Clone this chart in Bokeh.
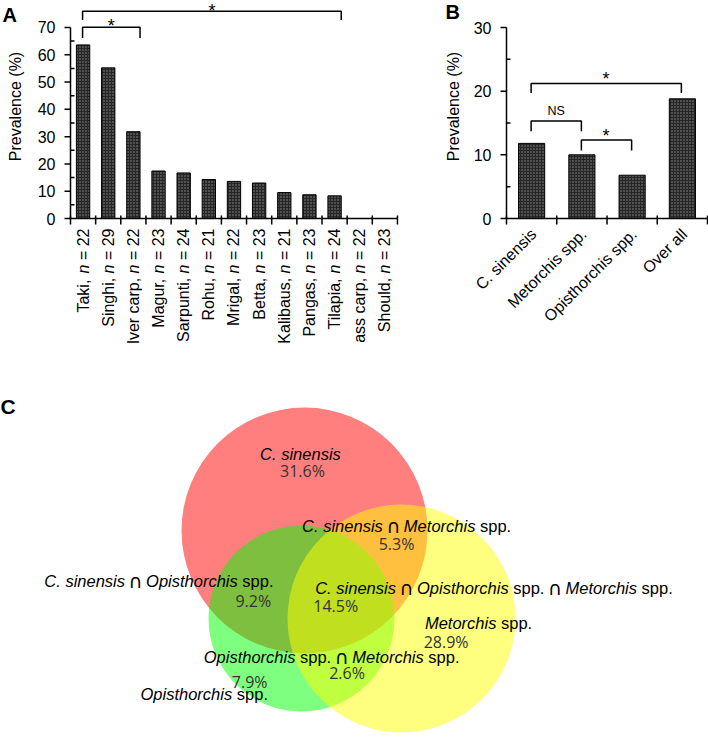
from math import pi
from bokeh.plotting import figure
from bokeh.models import Range1d, ColumnDataSource
from bokeh.layouts import column, row
from bokeh.embed import file_html
from bokeh.resources import INLINE
from bokeh.core.properties import value

# ---------------- data ----------------
# Panel A: prevalence by fish species
fish = ["Taki", "Singhi", "lver carp", "Magur", "Sarpunti", "Rohu", "Mrigal",
        "Betta", "Kalibaus", "Pangas", "Tilapia", "ass carp", "Should"]
fish_n = [22, 29, 22, 23, 24, 21, 22, 23, 21, 23, 24, 22, 23]
fish_prev = [63.6, 55.2, 31.8, 17.4, 16.7, 14.3, 13.6, 13.0, 9.5, 8.7, 8.3, 0.0, 0.0]
yticks_a = [0, 10, 20, 30, 40, 50, 60, 70]
yminor_a = [5, 15, 25, 35, 45, 55, 65]

# Panel B: prevalence by parasite
parasites = ["C. sinensis", "Metorchis spp.", "Opisthorchis spp.", "Over all"]
parasite_prev = [11.8, 10.0, 6.8, 18.8]
yticks_b = [0, 10, 20, 30]
yminor_b = [5, 15, 25]

# Panel C: Venn diagram of co-infection (percent)
venn_sets = ["C. sinensis", "Opisthorchis spp.", "Metorchis spp."]
venn_colors = ["#ff0000", "#00ff00", "#ffff00"]
region_names = [
    "C. sinensis",
    "C. sinensis ∩ Metorchis spp.",
    "C. sinensis ∩ Opisthorchis spp.",
    "C. sinensis ∩ Opisthorchis spp. ∩ Metorchis spp.",
    "Metorchis spp.",
    "Opisthorchis spp. ∩ Metorchis spp.",
    "Opisthorchis spp.",
]
region_pct = [31.6, 5.3, 9.2, 14.5, 28.9, 2.6, 7.9]

# ---------------- helpers ----------------
FONT = "Liberation Sans"
W = {' ': 278, ',': 278, '.': 278, '=': 584, '(': 333, ')': 333, '%': 889, '∩': 722,
     'a': 556, 'b': 556, 'c': 500, 'd': 556, 'e': 556, 'f': 278, 'g': 556, 'h': 556,
     'i': 222, 'j': 222, 'k': 500, 'l': 222, 'm': 833, 'n': 556, 'o': 556, 'p': 556,
     'q': 556, 'r': 333, 's': 500, 't': 278, 'u': 556, 'v': 500, 'w': 722, 'x': 500,
     'y': 500, 'z': 500, 'A': 667, 'B': 667, 'C': 722, 'D': 722, 'E': 667, 'F': 611,
     'G': 778, 'H': 722, 'I': 278, 'K': 667, 'L': 556, 'M': 833, 'N': 722, 'O': 778,
     'P': 667, 'R': 722, 'S': 667, 'T': 611}
for d in "0123456789":
    W[d] = 556


def tw(s, size):
    return sum(W.get(c, 556) for c in s) * size / 1000.0


BAR = dict(fill_color="#262626", line_color="black", line_width=1,
           hatch_pattern="dot", hatch_color="white", hatch_alpha=0.5,
           hatch_scale=3, hatch_weight=1)
TXT = dict(text_font=value(FONT), text_color="black")


def panel(width, height, ox, oy, kx, ky):
    """figure whose frame fills the canvas; data origin at pixel (ox, oy)."""
    p = figure(width=width, height=height, output_backend="svg",
               toolbar_location=None,
               x_range=Range1d(-ox / kx, (width - ox) / kx),
               y_range=Range1d(-(height - oy) / ky, oy / ky),
               x_axis_location=None, y_axis_location=None,
               min_border=0, outline_line_color=None)
    p.xgrid.visible = False
    p.ygrid.visible = False
    return p


def draw_axes(p, n, yticks, yminor, kx, ky, ymax, label_x, label_y):
    lw = 1.5
    # axis lines
    p.segment(x0=[0, 0], y0=[0, 0], x1=[n, 0], y1=[0, ymax], line_color="black",
              line_width=lw)
    # y ticks: major outward, minor inward
    p.ray(x=[0] * len(yticks), y=yticks, length=6, length_units="screen",
          angle=pi, line_color="black", line_width=lw)
    p.ray(x=[0] * len(yminor), y=yminor, length=4, length_units="screen",
          angle=0, line_color="black", line_width=lw)
    # x ticks at category boundaries (crossing the axis line)
    xb = list(range(n + 1))
    p.ray(x=xb, y=[0] * len(xb), length=6, length_units="screen", angle=-pi / 2,
          line_color="black", line_width=lw)
    p.ray(x=xb, y=[0] * len(xb), length=3, length_units="screen", angle=pi / 2,
          line_color="black", line_width=lw)
    # y tick labels
    p.text(x=[-15 / kx] * len(yticks), y=yticks, text=[str(t) for t in yticks],
           text_align="right", text_baseline="middle", text_font_size="16px", **TXT)
    # y axis title
    p.text(x=[label_x], y=[label_y], text=["Prevalence (%)"], angle=pi / 2,
           text_align="center", text_baseline="middle", text_font_size="16px", **TXT)


STAR = dict(text_align="center", text_baseline="middle", text_font_size="18px", **TXT)
LETTER = dict(text_align="left", text_baseline="middle", text_font_size="20px",
              text_font_style="bold", **TXT)

# ---------------- Panel A ----------------
kxA, kyA, oxA, oyA = 25.15, 2.729, 70, 218
nA = len(fish)
xa = [i + 0.5 for i in range(nA)]
pA = panel(400, 368, oxA, oyA, kxA, kyA)
pA.vbar(x=xa, top=fish_prev, bottom=0, width=0.53, **BAR)
draw_axes(pA, nA, yticks_a, yminor_a, kxA, kyA, 70, -55 / kxA, 112 / kyA)

# rotated category labels "Name, n = N" with italic n
norm = dict(x=[], y=[], text=[])
ital = dict(x=[], y=[], text=[])
for i, (name, n) in enumerate(zip(fish, fish_n)):
    segs = [(name + ", ", False), ("n", True), (" = %d" % n, False)]
    total = sum(tw(s, 16) for s, _ in segs)
    cum = 0.0
    for s, it in segs:
        lead = tw(" " * (len(s) - len(s.lstrip(" "))), 16)
        tgt = ital if it else norm
        tgt["x"].append(xa[i])
        tgt["y"].append(-(10 + total - cum - lead) / kyA)
        tgt["text"].append(s.strip(" "))
        cum += tw(s, 16)
for src, st in ((norm, "normal"), (ital, "italic")):
    pA.text(x="x", y="y", text="text", source=ColumnDataSource(src), angle=pi / 2,
            text_align="left", text_baseline="middle", text_font_size="16px",
            text_font_style=st, **TXT)

# significance brackets A (Taki vs Silver carp, Taki vs Tilapia)
i_taki, i_silver, i_tilapia = 0, 2, 10
lA_x = [[xa[i_taki] - 0.02] * 2 + [xa[i_tilapia] + 0.265] * 2,
        [xa[i_taki] - 0.02] * 2 + [xa[i_silver] + 0.265] * 2]
lA_y = [[72.7, 75.9, 75.9, 72.7], [66.1, 70.1, 70.1, 66.1]]
pA.multi_line(lA_x, lA_y, line_color="black", line_width=1.5)
pA.text(x=[(lA_x[0][0] + lA_x[0][2]) / 2, (lA_x[1][0] + lA_x[1][2]) / 2],
        y=[76.04, 70.5], text=["*", "*"], **STAR)
pA.text(x=[-68 / kxA], y=[204 / kyA], text=["A"], **LETTER)

# ---------------- Panel B ----------------
kxB, kyB, oxB, oyB = 50.25, 6.366, 106, 218
nB = len(parasites)
xbc = [i + 0.5 for i in range(nB)]
pB = panel(308, 368, oxB, oyB, kxB, kyB)
pB.vbar(x=xbc, top=parasite_prev, bottom=0, width=0.52, **BAR)
draw_axes(pB, nB, yticks_b, yminor_b, kxB, kyB, 30, -53 / kxB, 112 / kyB)
pB.text(x=[c + 2 / kxB for c in xbc], y=[-13 / kyB] * nB, text=parasites,
        angle=pi / 4, text_align="right", text_baseline="middle",
        text_font_size="16px", **TXT)

lB_x = [[0.49, 0.49, 3.48, 3.48], [0.49, 0.49, 1.49, 1.49], [1.49, 1.49, 2.49, 2.49]]
lB_y = [[19.7, 21.2, 21.2, 19.7], [13.7, 15.3, 15.3, 13.7], [10.7, 12.35, 12.35, 10.7]]
pB.multi_line(lB_x, lB_y, line_color="black", line_width=1.5)
pB.text(x=[1.98, 1.98], y=[21.85, 12.94], text=["*", "*"], **STAR)
pB.text(x=[0.99], y=[16.89], text=["NS"], text_align="center",
        text_baseline="middle", text_font_size="12.5px", **TXT)
pB.text(x=[-61 / kxB], y=[206.5 / kyB], text=["B"], **LETTER)

# ---------------- Panel C ----------------
pC = figure(width=708, height=371, output_backend="svg", toolbar_location=None,
            x_range=Range1d(0, 708), y_range=Range1d(739, 368),
            x_axis_location=None, y_axis_location=None,
            min_border=0, outline_line_color=None)
pC.xgrid.visible = False
pC.ygrid.visible = False

circ_x = [304, 301, 401]
circ_y = [530, 618, 618]
circ_r = [123, 93, 114]
for cx, cy, r, col in zip(circ_x, circ_y, circ_r, venn_colors):
    pC.circle(x=[cx], y=[cy], radius=r, fill_color=col, fill_alpha=0.5,
              line_color=None)

lab_left = [259.6, 301.6, 43.8, 314.7, 424.4, 203.2, 140.0]
lab_y = [454.3, 526.7, 581.7, 588.3, 623.3, 657.3, 694.3]
pct_x = [302.0, 396.0, 252.8, 335.2, 445.6, 346.5, 249.2]
pct_y = [470.7, 543.3, 600.7, 605.7, 641.7, 672.7, 681.7]

SZ = 16.5
cn = dict(x=[], y=[], text=[])
ci = dict(x=[], y=[], text=[])
cs = dict(x=[], y=[], text=[])
for name, lx, ly in zip(region_names, lab_left, lab_y):
    base = ly - 1.0                 # alphabetic baseline position
    tokens = name.split(" ")
    cx = lx
    for k, tok in enumerate(tokens):
        if tok == "∩":
            cs["x"].append(cx + tw(tok, SZ) / 2)
            cs["y"].append(base)
            cs["text"].append(tok)
        else:
            tgt = cn if tok == "spp." else ci
            if tgt is ci and k > 0 and tokens[k - 1] not in ("spp.", "∩") and ci["text"]:
                ci["text"][-1] = ci["text"][-1] + " " + tok
            else:
                tgt["x"].append(cx)
                tgt["y"].append(base)
                tgt["text"].append(tok)
        cx += tw(tok + " ", SZ)
for src, st in ((cn, "normal"), (ci, "italic")):
    pC.text(x="x", y="y", text="text", source=ColumnDataSource(src),
            text_align="left", text_baseline="alphabetic",
            text_font_size="%.1fpx" % SZ, text_font_style=st, **TXT)
pC.text(x="x", y="y", text="text", source=ColumnDataSource(cs),
        text_align="center", text_baseline="alphabetic",
        text_font=value("DejaVu Sans"), text_font_size="19px", text_color="black")

pC.text(x=pct_x, y=pct_y, text=["%.1f%%" % v for v in region_pct],
        text_align="center", text_baseline="middle", text_font=value("Open Sans"),
        text_font_size="16px", text_color="#333333")
pC.text(x=[0], y=[405.5], text=["C"], text_align="left", text_baseline="middle",
        text_font_size="21px", text_font_style="bold", **TXT)

layout = column(row(pA, pB), pC)
open("out.html", "w").write(file_html(layout, INLINE))
